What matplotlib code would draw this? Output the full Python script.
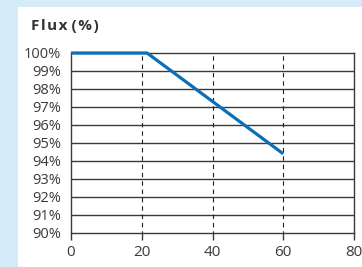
import matplotlib
matplotlib.use('Agg')
import matplotlib.pyplot as plt
from matplotlib.patches import Rectangle

# data
load = [0, 21.5, 60]
flux = [100, 100, 94.4]
x_ticks = [0, 20, 40, 60, 80]
y_ticks = list(range(90, 101))
y_labels = [str(v) + '%' for v in y_ticks]

plt.rcParams['font.family'] = ['Open Sans', 'DejaVu Sans']

fig = plt.figure(figsize=(3.62, 2.67), dpi=100)
fig.patch.set_facecolor('#d6ebf8')
# white card behind the chart
fig.patches.append(Rectangle((18 / 362, 0), 1 - 18 / 362, 1 - 7 / 267,
                             transform=fig.transFigure, facecolor='white',
                             edgecolor='none', zorder=-10))

ax = fig.add_axes([71 / 362, 1 - 233 / 267, (354 - 71) / 362, (233 - 53) / 267])
ax.set_zorder(5)
ax.set_facecolor('white')
ax.set_xlim(0, 80)
ax.set_ylim(90, 100)

for y in y_ticks[1:-1]:
    ax.axhline(y, color='#3a3a3a', lw=1.0, zorder=1)
for x in x_ticks[1:-1]:
    ax.axvline(x, color='#222222', lw=0.8, ls=(2, (4, 3.5)), zorder=1)

ax.plot(load, flux, color='#0b6fb8', lw=2.3, zorder=3, clip_on=False,
        solid_capstyle='butt')

for s in ax.spines.values():
    s.set_color('#3a3a3a')
    s.set_linewidth(1.0)

ax.set_xticks(x_ticks)
ax.set_yticks(y_ticks)
ax.set_yticklabels(y_labels)
ax.tick_params(axis='x', direction='out', length=5, width=1, color='#3a3a3a',
               labelsize=11, labelcolor='#3a3a3a', pad=4)
ax.tick_params(axis='y', length=0, labelsize=10.5, labelcolor='#3a3a3a', pad=7)

hs = '\u200a'
fig.text(31 / 362, 1 - 26 / 267, hs.join('Flux') + ' ' + hs.join('(%)'),
         fontsize=11, fontweight='bold', color='#333333', va='center', ha='left')

fig.savefig('out.png', dpi=100, facecolor=fig.get_facecolor())
